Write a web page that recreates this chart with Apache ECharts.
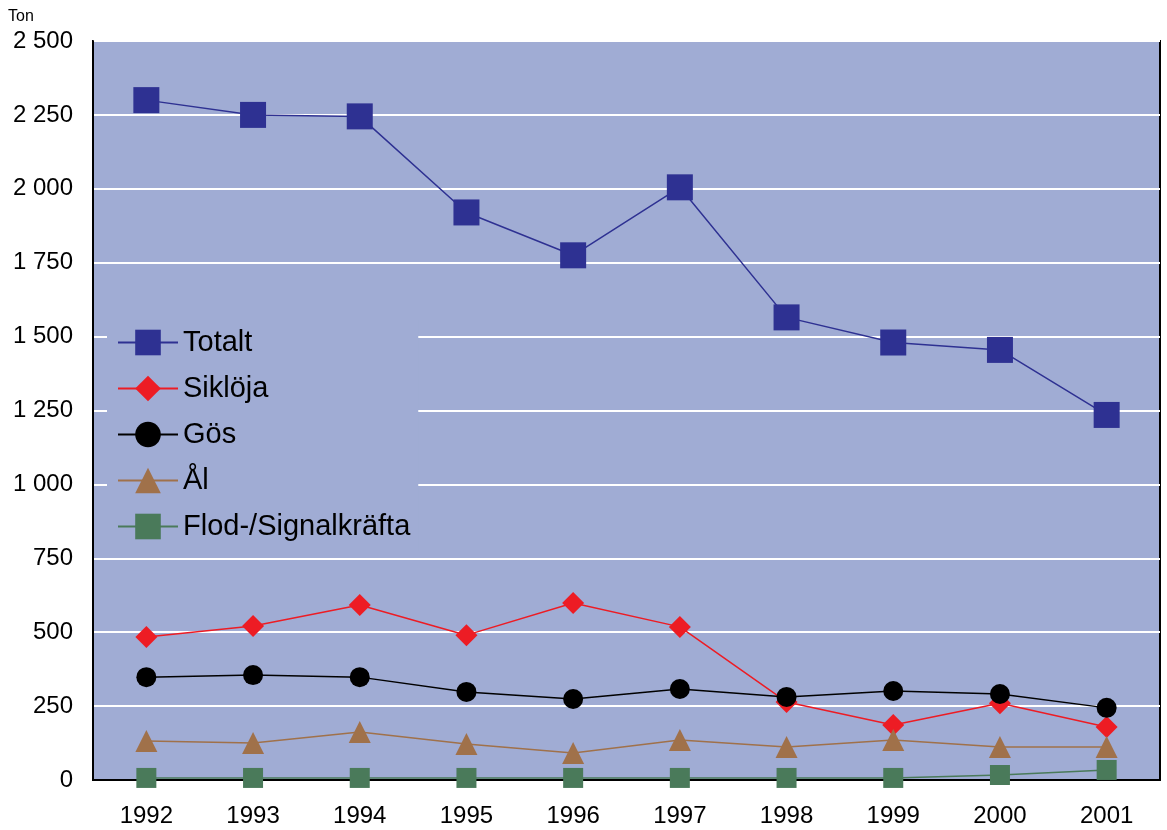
<!DOCTYPE html>
<html>
<head>
<meta charset="utf-8">
<script src="https://cdn.jsdelivr.net/npm/echarts@6/dist/echarts.min.js"></script>
<style>
html,body{margin:0;padding:0;background:#fff;}
#main{width:1167px;height:830px;}
</style>
</head>
<body>
<div id="main"></div>
<script>
// fångst per år, ton
var years = ['1992','1993','1994','1995','1996','1997','1998','1999','2000','2001'];
var totalt = [2300, 2250, 2245, 1920, 1775, 2005, 1565, 1480, 1455, 1235];
var sikloja = [484, 521, 592, 490, 599, 518, 264, 186, 260, 179];
var gos = [348, 355, 348, 298, 274, 308, 281, 301, 291, 244];
var al = [132, 125, 162, 122, 91, 135, 112, 135, 112, 112];
var flod = [7, 7, 7, 7, 7, 7, 7, 7, 17, 34];

var bg = '#a0acd4';
var font = 'Liberation Sans, Arial, sans-serif';
var chart = echarts.init(document.getElementById('main'));

function fmt(v) {
    var s = String(v);
    if (s.length > 3) s = s.slice(0, s.length - 3) + ' ' + s.slice(-3);
    return s;
}

function line(name, data, color, symbol, size) {
    return {
        name: name,
        type: 'line',
        data: data,
        symbol: symbol,
        symbolSize: size,
        lineStyle: { color: color, width: 1.5 },
        itemStyle: { color: color },
        emphasis: { disabled: true },
        z: 3
    };
}

var option = {
    backgroundColor: '#fff',
    animation: false,
    textStyle: { fontFamily: font },
    graphic: [{
        type: 'text', left: 8, top: 9,
        style: { text: 'Ton', fontSize: 16, fill: '#000', fontFamily: font }
    }],
    grid: {
        left: 93, top: 41, right: 7, bottom: 50,
        show: true, backgroundColor: bg, borderColor: '#000', borderWidth: 2
    },
    legend: {
        orient: 'vertical',
        left: 107, top: 320,
        padding: [8, 8, 10, 10],
        backgroundColor: bg,
        itemWidth: 60, itemHeight: 32, itemGap: 17,
        textStyle: { fontSize: 29, color: '#000' },
        data: ['Totalt', 'Siklöja', 'Gös', 'Ål', 'Flod-/Signalkräfta'],
        z: 10
    },
    xAxis: {
        type: 'category',
        data: years,
        boundaryGap: true,
        axisLine: { lineStyle: { color: '#000', width: 2 } },
        axisTick: { show: false },
        axisLabel: { fontSize: 24, color: '#000', margin: 24 }
    },
    yAxis: {
        type: 'value',
        min: 0, max: 2500, interval: 250,
        axisLine: { show: true, lineStyle: { color: '#000', width: 2 } },
        axisTick: { show: false },
        splitLine: { lineStyle: { color: '#fff', width: 2 } },
        axisLabel: { fontSize: 24, color: '#000', margin: 20, formatter: fmt }
    },
    series: [
        line('Totalt', totalt, '#2e3192', 'rect', 26),
        line('Siklöja', sikloja, '#ed1c24', 'diamond', 22),
        line('Gös', gos, '#000', 'circle', 20),
        line('Ål', al, '#a0714a', 'triangle', 22),
        line('Flod-/Signalkräfta', flod, '#4a7a5a', 'rect', 20)
    ]
};
chart.setOption(option);
</script>
</body>
</html>
